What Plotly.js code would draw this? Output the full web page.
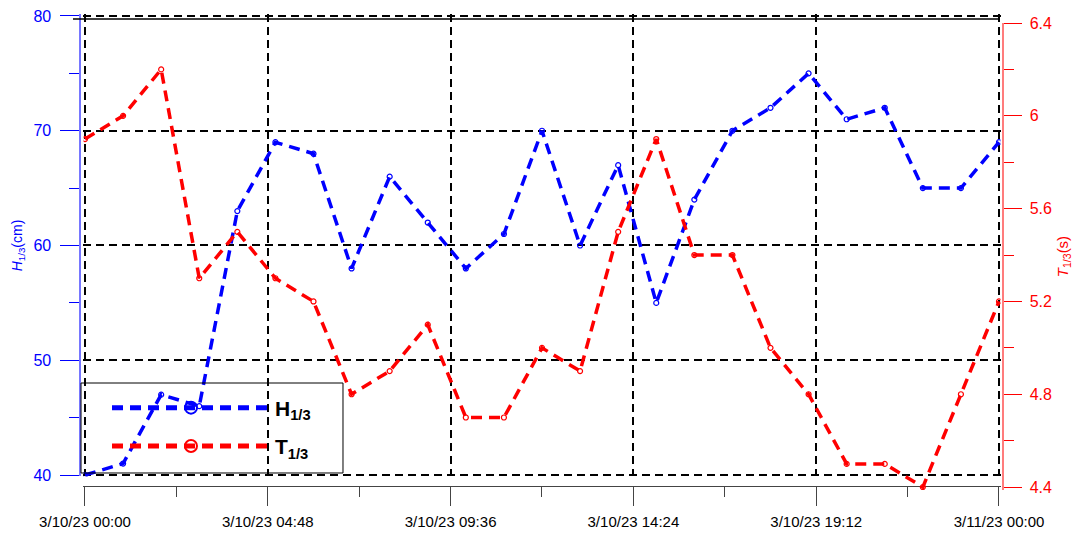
<!DOCTYPE html>
<html>
<head>
<meta charset="utf-8">
<script src="https://cdn.plot.ly/plotly-3.0.1.min.js"></script>
<style>html,body{margin:0;padding:0;background:#fff;}#chart{width:1084px;height:536px;}</style>
</head>
<body>
<div id="chart"></div>
<script>
const times = [
  '2023-03-10 00:00','2023-03-10 01:00','2023-03-10 02:00','2023-03-10 03:00','2023-03-10 04:00',
  '2023-03-10 05:00','2023-03-10 06:00','2023-03-10 07:00','2023-03-10 08:00','2023-03-10 09:00',
  '2023-03-10 10:00','2023-03-10 11:00','2023-03-10 12:00','2023-03-10 13:00','2023-03-10 14:00',
  '2023-03-10 15:00','2023-03-10 16:00','2023-03-10 17:00','2023-03-10 18:00','2023-03-10 19:00',
  '2023-03-10 20:00','2023-03-10 21:00','2023-03-10 22:00','2023-03-10 23:00','2023-03-11 00:00'
];
const H13 = [40, 41, 47, 46, 63, 69, 68, 58, 66, 62, 58, 61, 70, 60, 67, 55, 64, 70, 72, 75, 71, 72, 65, 65, 69];
const T13 = [5.9, 6.0, 6.2, 5.3, 5.5, 5.3, 5.2, 4.8, 4.9, 5.1, 4.7, 4.7, 5.0, 4.9, 5.5, 5.9, 5.4, 5.4, 5.0, 4.8, 4.5, 4.5, 4.4, 4.8, 5.2];
const seriesNames = ['<b>H<sub>1/3</sub></b>', '<b>T<sub>1/3</sub></b>'];
// axis spans (slightly padded so that the edge grid lines are kept)
const xRange = ['2023-03-09 23:57:38', '2023-03-11 00:02:22'];
const hRange = [39.87, 80.13];
const tRange = [4.38745, 6.4001];

const FONT = 'Liberation Sans, Arial, sans-serif';
const BLUE = '#0000ff', RED = '#ff0000';

const traces = [
  {
    x: times, y: H13, name: seriesNames[0], type: 'scatter', mode: 'lines+markers',
    xaxis: 'x', yaxis: 'y', legendgroup: 'h',
    line: {color: BLUE, width: 3.5, dash: '11px,7px'},
    marker: {symbol: 'circle-open', size: 5, color: BLUE, line: {width: 1.2}}
  },
  {
    x: times, y: T13, name: seriesNames[1], type: 'scatter', mode: 'lines+markers',
    xaxis: 'x2', yaxis: 'y2', legendgroup: 't',
    line: {color: RED, width: 3.5, dash: '11px,7px'},
    marker: {symbol: 'circle-open', size: 5, color: RED, line: {width: 1.2}}
  }
];

const layout = {
  width: 1084, height: 536,
  margin: {l: 79, r: 82, t: 12, b: 46, pad: 0},
  paper_bgcolor: '#ffffff', plot_bgcolor: 'rgba(0,0,0,0)',
  font: {family: FONT, size: 14, color: '#000'},
  showlegend: true,
  legend: {
    x: 0.030336, y: 0.2144, xanchor: 'left', yanchor: 'top',
    bgcolor: 'rgba(0,0,0,0)', borderwidth: 0,
    font: {family: FONT, size: 21, color: '#000'},
    itemwidth: 158, itemsizing: 'constant', tracegroupgap: 8, traceorder: 'grouped'
  },
  xaxis: {
    type: 'date', range: xRange, domain: [0.004875, 0.998375],
    anchor: 'free', position: 0.008368,
    showline: true, linecolor: '#444', linewidth: 1,
    ticks: 'outside', ticklen: 19, tickcolor: '#444', tickwidth: 1,
    tick0: '2023-03-10 00:00', dtick: 17280000,
    tickformat: '%-m/%d/%y %H:%M',
    tickfont: {family: FONT, size: 15, color: '#000'},
    ticklabelstandoff: 3,
    minor: {dtick: 8640000, tick0: '2023-03-10 00:00', ticks: 'outside', ticklen: 10, tickcolor: '#444', tickwidth: 1, showgrid: false},
    showgrid: true, gridcolor: '#000', gridwidth: 2, griddash: '8px,5px',
    zeroline: false
  },
  xaxis2: {
    type: 'date', range: xRange, overlaying: 'x', visible: false
  },
  yaxis: {
    range: hRange, domain: [0.028243, 0.994770],
    anchor: 'free', position: 0.0005,
    showline: true, linecolor: 'rgba(60,60,255,0.7)', linewidth: 1.5,
    ticks: 'outside', ticklen: 19, tickcolor: BLUE, tickwidth: 1,
    dtick: 10, tick0: 40,
    tickfont: {family: FONT, size: 16, color: BLUE},
    ticklabelstandoff: 6,
    minor: {dtick: 5, tick0: 40, ticks: 'outside', ticklen: 10, tickcolor: BLUE, tickwidth: 1, showgrid: false},
    showgrid: true, gridcolor: '#000', gridwidth: 2, griddash: '8px,5px',
    zeroline: false,
    title: {text: '<i>H</i><sub>1/3</sub>(cm)', font: {family: FONT, size: 14, color: BLUE}, standoff: 6}
  },
  yaxis2: {
    range: tRange, domain: [0, 0.976987],
    anchor: 'free', position: 1, side: 'right',
    showline: true, linecolor: 'rgba(255,80,80,0.75)', linewidth: 1.5,
    ticks: 'outside', ticklen: 18, tickcolor: RED, tickwidth: 1,
    dtick: 0.4, tick0: 4.4,
    tickfont: {family: FONT, size: 16, color: RED},
    ticklabelstandoff: 5,
    minor: {dtick: 0.2, tick0: 4.4, ticks: 'outside', ticklen: 10, tickcolor: RED, tickwidth: 1, showgrid: false},
    showgrid: false, zeroline: false,
    title: {text: '<i>T</i><sub>1/3</sub>(s)', font: {family: FONT, size: 15, color: RED}, standoff: 6}
  },
  shapes: [
    {type: 'line', xref: 'paper', yref: 'paper', x0: -0.0065, x1: 0.99783, y0: 0.985356, y1: 0.985356,
     line: {color: '#000', width: 1.5}},
    {type: 'rect', xref: 'paper', yref: 'paper', x0: 0.002167, x1: 0.28602, y0: 0.035565, y1: 0.223849,
     line: {color: '#000', width: 1}, fillcolor: 'rgba(0,0,0,0)'}
  ]
};

Plotly.newPlot('chart', traces, layout, {displayModeBar: false, staticPlot: true});
</script>
</body>
</html>
